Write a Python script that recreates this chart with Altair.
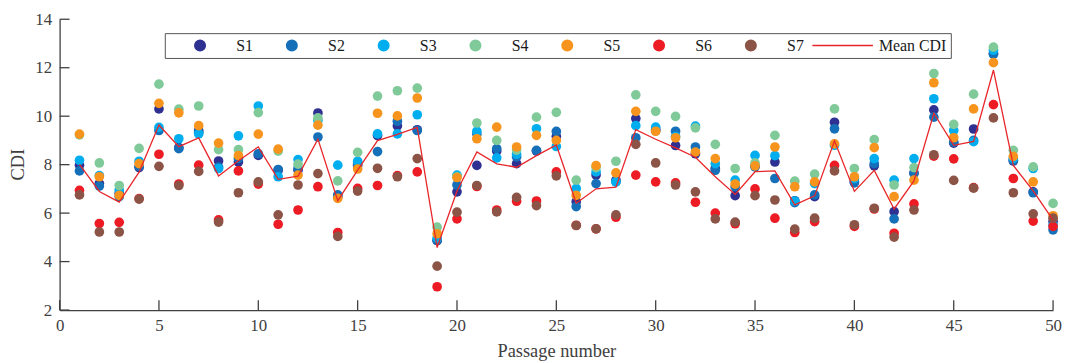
import altair as alt
import pandas as pd

passages = list(range(1, 51))

S1 = [7.98, 7.23, 6.82, 7.88, 10.30, 8.70, 9.40, 8.15, 8.11, 8.38,
      7.77, 7.77, 10.13, 6.68, 7.97, 9.20, 9.60, 9.44, 4.87, 6.88,
      7.97, 8.56, 8.04, 8.56, 9.16, 6.47, 7.57, 7.36, 9.90, 9.45,
      8.79, 8.45, 7.84, 6.72, 7.93, 8.11, 6.51, 6.68, 9.75, 7.29,
      7.95, 6.06, 7.66, 10.26, 8.89, 9.47, 12.60, 8.15, 6.88, 5.65]
S2 = [7.74, 7.12, 6.68, 7.93, 9.41, 8.66, 9.34, 7.90, 8.25, 8.45,
      7.80, 7.84, 9.14, 6.75, 8.04, 8.54, 9.79, 9.41, 4.87, 7.16,
      9.27, 8.66, 8.32, 8.59, 9.37, 6.27, 7.22, 7.29, 9.11, 9.40,
      9.38, 8.73, 7.77, 7.09, 7.91, 7.43, 6.43, 6.75, 9.48, 7.25,
      8.04, 5.76, 7.63, 9.96, 8.93, 9.00, 12.55, 8.18, 6.84, 5.31]
S3 = [8.18, 7.55, 6.95, 8.14, 9.54, 9.07, 9.27, 7.84, 9.19, 10.42,
      7.50, 8.21, 9.82, 7.98, 8.14, 9.27, 9.27, 10.06, 4.97, 7.57,
      9.38, 8.28, 8.43, 9.48, 8.75, 7.02, 7.70, 7.29, 9.61, 9.55,
      9.16, 9.59, 8.04, 7.36, 8.38, 8.37, 6.50, 7.22, 8.80, 7.43,
      8.25, 7.36, 8.25, 10.72, 9.41, 8.95, 12.72, 8.25, 7.84, 5.50]
S4 = [9.23, 8.07, 7.14, 8.67, 11.32, 10.29, 10.42, 8.62, 8.62, 10.15,
      8.56, 8.02, 9.93, 7.33, 8.51, 10.83, 11.05, 11.16, 5.42, 7.50,
      9.72, 9.00, 8.60, 9.96, 10.16, 7.36, 7.88, 8.14, 10.88, 10.20,
      9.99, 9.52, 8.84, 7.84, 8.07, 9.21, 7.32, 7.61, 10.30, 7.84,
      9.03, 7.16, 7.88, 11.76, 9.66, 10.91, 12.85, 8.59, 7.91, 6.40]
S5 = [9.26, 7.50, 6.73, 8.04, 10.53, 10.14, 9.61, 8.89, 8.37, 9.26,
      8.64, 7.57, 9.63, 6.61, 7.82, 10.12, 10.01, 10.75, 5.15, 7.47,
      9.07, 9.55, 8.73, 9.21, 9.00, 6.73, 7.96, 7.66, 10.20, 9.38,
      9.11, 8.52, 8.25, 7.20, 7.95, 8.73, 7.09, 7.29, 8.86, 7.50,
      8.70, 6.68, 7.36, 11.38, 9.11, 10.30, 12.21, 8.34, 7.29, 5.89]
S6 = [6.94, 5.57, 5.62, 6.60, 8.43, 7.20, 7.98, 5.72, 7.74, 7.20,
      5.54, 6.13, 7.09, 5.20, 7.02, 7.14, 7.55, 7.70, 2.96, 5.76,
      7.10, 6.13, 6.49, 6.50, 7.70, 5.50, 5.35, 5.83, 7.57, 7.29,
      7.25, 6.45, 6.00, 5.56, 7.00, 5.79, 5.20, 5.65, 7.97, 5.45,
      6.17, 5.17, 6.38, 8.35, 8.24, 7.05, 10.48, 7.43, 5.67, 5.45]
S7 = [6.75, 5.22, 5.22, 6.58, 7.93, 7.14, 7.72, 5.63, 6.84, 7.29,
      5.93, 7.16, 7.63, 5.04, 6.91, 7.85, 7.50, 8.25, 3.81, 6.04,
      7.14, 6.05, 6.65, 6.31, 7.54, 5.49, 5.35, 5.93, 8.84, 8.07,
      7.16, 6.88, 5.76, 5.63, 6.72, 6.54, 5.34, 5.79, 7.74, 5.52,
      6.20, 5.01, 6.13, 8.41, 7.35, 7.03, 9.93, 6.84, 5.97, 5.79]

series_names = ["S1", "S2", "S3", "S4", "S5", "S6", "S7"]
series_values = [S1, S2, S3, S4, S5, S6, S7]
mean_name = "Mean CDI"
x_ticks = [0, 5, 10, 15, 20, 25, 30, 35, 40, 45, 50]
y_ticks = [2, 4, 6, 8, 10, 12, 14]

colors = ["#2E3192", "#1570B9", "#00AEEF", "#80CA9A", "#F7941D", "#ED1C24", "#8B5446"]
mean_color = "#E8262A"

rows = []
for name, vals in zip(series_names, series_values):
    for p, v in zip(passages, vals):
        rows.append({"passage": p, "series": name, "value": v})
df = pd.DataFrame(rows)

FONT = "Liberation Serif"
AX = "#404040"

x_scale = alt.Scale(domain=[0, 50], nice=False, zero=False)
y_scale = alt.Scale(domain=[2, 14], nice=False, zero=False)

circle_path = "M0.174,0A0.174,0.174,0,1,1,-0.174,0A0.174,0.174,0,1,1,0.174,0Z"
line_path = "M-1,0L1,0"

legend = alt.Legend(
    title=None,
    orient="none",
    legendX=106,
    legendY=14,
    direction="horizontal",
    columns=8,
    symbolSize=3721,
    symbolType={"expr": f"datum.value === '{mean_name}' ? '{line_path}' : '{circle_path}'"},
    symbolStrokeColor={"expr": "scale('color', datum.value)"},
    symbolStrokeWidth=1.5,
    clipHeight=17,
    labelFont=FONT,
    labelFontSize=16,
    labelColor="#1a1a1a",
    labelOffset=5,
    columnPadding=7.5,
    padding=4,
    strokeColor="#555555",
    fillColor="#ffffff",
)

X_TITLE = "Passage number"
Y_TITLE = "CDI"

x_axis = alt.Axis(
    values=x_ticks, ticks=False, grid=False, domainColor=AX, domainWidth=1.3,
    labelFont=FONT, labelFontSize=17, labelColor=AX, labelPadding=8,
    labelFlush=False, labelOverlap=False,
    titleFont=FONT, titleFontSize=18.5, titleColor=AX, titleFontWeight="normal",
    titleY=41, titleBaseline="middle",
)
y_axis = alt.Axis(
    values=y_ticks, ticks=False, grid=False, domainColor=AX, domainWidth=1.3,
    labelFont=FONT, labelFontSize=17, labelColor=AX, labelPadding=8,
    labelFlush=False, labelOverlap=False,
    titleFont=FONT, titleFontSize=18.5, titleColor=AX, titleFontWeight="normal",
    titleX=-42, titleY=146, titleBaseline="middle", titleAngle=-90,
)

points = alt.Chart(df).mark_point(filled=True, size=95, opacity=1, strokeWidth=0).encode(
    x=alt.X("passage:Q", scale=x_scale, axis=x_axis, title=X_TITLE),
    y=alt.Y("value:Q", scale=y_scale, axis=y_axis, title=Y_TITLE),
    color=alt.Color(
        "series:N",
        scale=alt.Scale(domain=series_names + [mean_name], range=colors + [mean_color]),
        legend=legend,
    ),
)

mean_line = alt.Chart(df).transform_aggregate(
    mean="mean(value)", groupby=["passage"]
).mark_line(color=mean_color, strokeWidth=1.3).encode(
    x=alt.X("passage:Q", scale=x_scale, axis=x_axis, title=X_TITLE),
    y=alt.Y("mean:Q", scale=y_scale, axis=y_axis, title=Y_TITLE),
)

y_tick_marks = alt.Chart(pd.DataFrame({"v": y_ticks})).mark_rule(color=AX, strokeWidth=1.3).encode(
    y=alt.Y("v:Q", scale=y_scale, axis=y_axis, title=Y_TITLE),
    x=alt.value(0),
    x2=alt.value(10),
)
x_tick_marks = alt.Chart(pd.DataFrame({"v": x_ticks})).mark_rule(color=AX, strokeWidth=1.3).encode(
    x=alt.X("v:Q", scale=x_scale, axis=x_axis, title=X_TITLE),
    y=alt.value(293),
    y2=alt.value(283),
)

chart = alt.layer(points, mean_line, x_tick_marks, y_tick_marks).properties(
    width=1001,
    height=293,
    padding={"left": 52, "top": 10, "right": 9, "bottom": 51},
    autosize=alt.AutoSizeParams(type="none"),
    background="#ffffff",
).configure_view(stroke=None)

chart.save("out.html", embed_options={"renderer": "svg", "actions": False})
